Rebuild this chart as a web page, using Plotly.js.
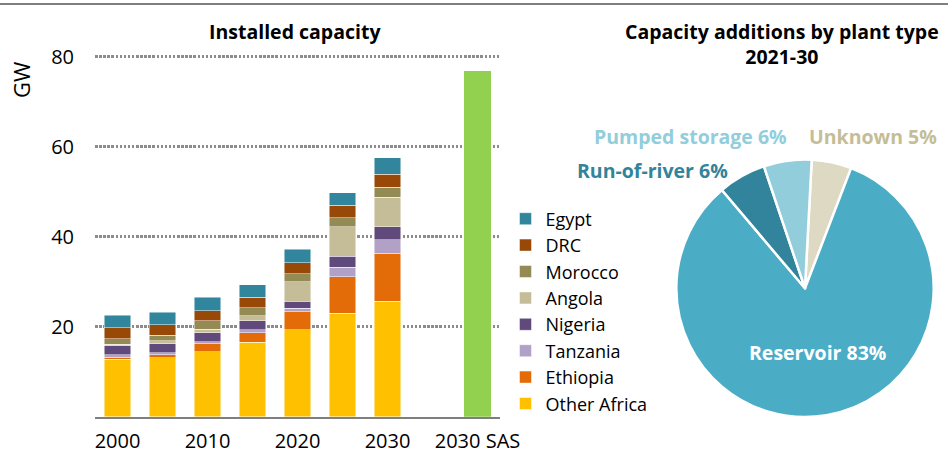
<!DOCTYPE html>
<html>
<head>
<meta charset="utf-8">
<script src="https://cdn.plot.ly/plotly-3.0.1.min.js"></script>
<style>html,body{margin:0;padding:0;background:#fff;}#chart{width:948px;height:454px;}</style>
</head>
<body>
<div id="chart"></div>
<script>
// ---- Data ----
const categories = ['2000','2005','2010','2015','2020','2025','2030','2035','2030 SAS'];
const barYears = ['2000','2005','2010','2015','2020','2025','2030'];
const tickLabels = ['2000','2010','2020','2030','2030 SAS'];

const otherAfrica = [12.8, 13.1, 14.4, 16.6, 19.3, 23.0, 25.7];
const ethiopia    = [0.45, 0.7, 1.8, 2.1, 4.0, 8.1, 10.6];
const tanzania    = [0.5, 0.45, 0.5, 0.6, 0.75, 2.1, 3.0];
const nigeria     = [2.0, 2.0, 2.0, 2.0, 1.65, 2.5, 2.9];
const angola      = [0.4, 0.65, 0.75, 1.1, 4.3, 6.5, 6.6];
const morocco     = [1.2, 1.2, 1.85, 1.8, 1.8, 2.0, 2.2];
const drc         = [2.4, 2.3, 2.3, 2.3, 2.45, 2.8, 2.9];
const egypt       = [2.8, 2.8, 2.9, 2.8, 2.95, 2.8, 3.7];

const sasCategory = ['2030 SAS'];
const sasValue = [76.8];

const pieLabels = ['Unknown', 'Reservoir', 'Run-of-river', 'Pumped storage'];
const pieValues = [5, 83, 6, 6];

// ---- Styles ----
const FONT = 'Open Sans, sans-serif';
const seriesDefs = [
  {name:'Other Africa', y: otherAfrica, color:'#ffc000'},
  {name:'Ethiopia', y: ethiopia, color:'#e36c09'},
  {name:'Tanzania', y: tanzania, color:'#b2a1c7'},
  {name:'Nigeria', y: nigeria, color:'#604a7b'},
  {name:'Angola', y: angola, color:'#c4bd97'},
  {name:'Morocco', y: morocco, color:'#948a54'},
  {name:'DRC', y: drc, color:'#984807'},
  {name:'Egypt', y: egypt, color:'#31859c'}
];

const traces = seriesDefs.map(s => ({
  type:'bar', x: barYears, y: s.y, name: s.name,
  marker:{color: s.color, line:{color:'rgba(255,255,255,0.6)', width:0.8}},
  hoverinfo:'skip'
}));
traces.push({
  type:'bar', x: sasCategory, y: sasValue, name:'2030 SAS', showlegend:false,
  marker:{color:'#92d050', line:{width:0}}, hoverinfo:'skip'
});

const pieColors = ['#ddd9c3', '#4bacc6', '#31849b', '#92cddc'];
traces.push({
  type:'pie', labels: pieLabels, values: pieValues, sort:false, direction:'clockwise',
  rotation: 3, textinfo:'none', showlegend:false, hoverinfo:'skip',
  marker:{colors: pieColors, line:{color:'#ffffff', width:2.5}},
  domain:{x:[676.3/948, 933.7/948], y:[37/454, 294.4/454]}
});

function px2x(p){ return p/948; }
function px2y(p){ return (454-p)/454; }

const pieLabelStyle = {
  'Unknown': {x:873, y:136, color:'#c4bd97'},
  'Reservoir': {x:817, y:352, color:'#ffffff'},
  'Run-of-river': {x:652, y:170, color:'#31849b'},
  'Pumped storage': {x:690, y:136, color:'#92cddc'}
};

const annotations = [
  {text:'<b>Installed capacity</b>', x:px2x(295), y:px2y(32), xref:'paper', yref:'paper', showarrow:false,
   xanchor:'center', yanchor:'middle', font:{family:FONT, size:19.5, color:'#000'}},
  {text:'<b>Capacity additions by plant type<br>2021-30</b>', x:px2x(782), y:px2y(44), xref:'paper', yref:'paper', showarrow:false,
   xanchor:'center', yanchor:'middle', align:'center', font:{family:FONT, size:19.5, color:'#000'}},
  {text:'GW', x:px2x(21), y:px2y(80), xref:'paper', yref:'paper', showarrow:false, textangle:-90,
   xanchor:'center', yanchor:'middle', font:{family:FONT, size:22, color:'#000'}}
];
pieLabels.forEach((lab, i) => {
  const st = pieLabelStyle[lab];
  annotations.push({
    text:'<b>' + lab + ' ' + pieValues[i] + '%</b>', x:px2x(st.x), y:px2y(st.y),
    xref:'paper', yref:'paper', showarrow:false, xanchor:'center', yanchor:'middle',
    font:{family:FONT, size:19.5, color: st.color}
  });
});

const yTop = 80.3;
const layout = {
  width:948, height:454,
  margin:{l:0, r:0, t:0, b:0},
  paper_bgcolor:'#ffffff', plot_bgcolor:'#ffffff',
  barmode:'stack', bargap:0.42,
  font:{family:FONT, size:20, color:'#000'},
  xaxis:{
    domain:[95/948, 500/948], type:'category',
    categoryorder:'array', categoryarray: categories,
    range:[-0.5, 8.5], tickmode:'array', tickvals: tickLabels, ticktext: tickLabels,
    showgrid:false, showline:true, linecolor:'#7f7f7f', linewidth:2,
    ticks:'', tickfont:{family:FONT, size:20, color:'#000'}, ticklabelstandoff:5,
    fixedrange:true
  },
  yaxis:{
    domain:[37.3/454, (454 - (416.7 - yTop*4.5))/454], range:[0, yTop],
    tickvals:[20, 40, 60, 80], ticktext:['20','40','60','80'],
    showgrid:true, gridcolor:'#8c8c8c', gridwidth:3, griddash:'2.5px,1.6px',
    zeroline:false, showline:false, ticks:'',
    tickfont:{family:FONT, size:20, color:'#000'}, ticklabelstandoff:20,
    fixedrange:true
  },
  legend:{
    x:(525.5-20)/948, y:px2y(200.5), xanchor:'left', yanchor:'top',
    traceorder:'reversed', font:{family:FONT, size:18, color:'#000'},
    bgcolor:'rgba(0,0,0,0)', itemclick:false, itemdoubleclick:false
  },
  shapes:[
    {type:'line', xref:'paper', yref:'paper', x0:0, x1:1, y0:px2y(4), y1:px2y(4),
     line:{color:'#7f7f7f', width:2}}
  ],
  annotations: annotations,
  showlegend:true
};

Plotly.newPlot('chart', traces, layout, {displayModeBar:false, staticPlot:true});
</script>
</body>
</html>
